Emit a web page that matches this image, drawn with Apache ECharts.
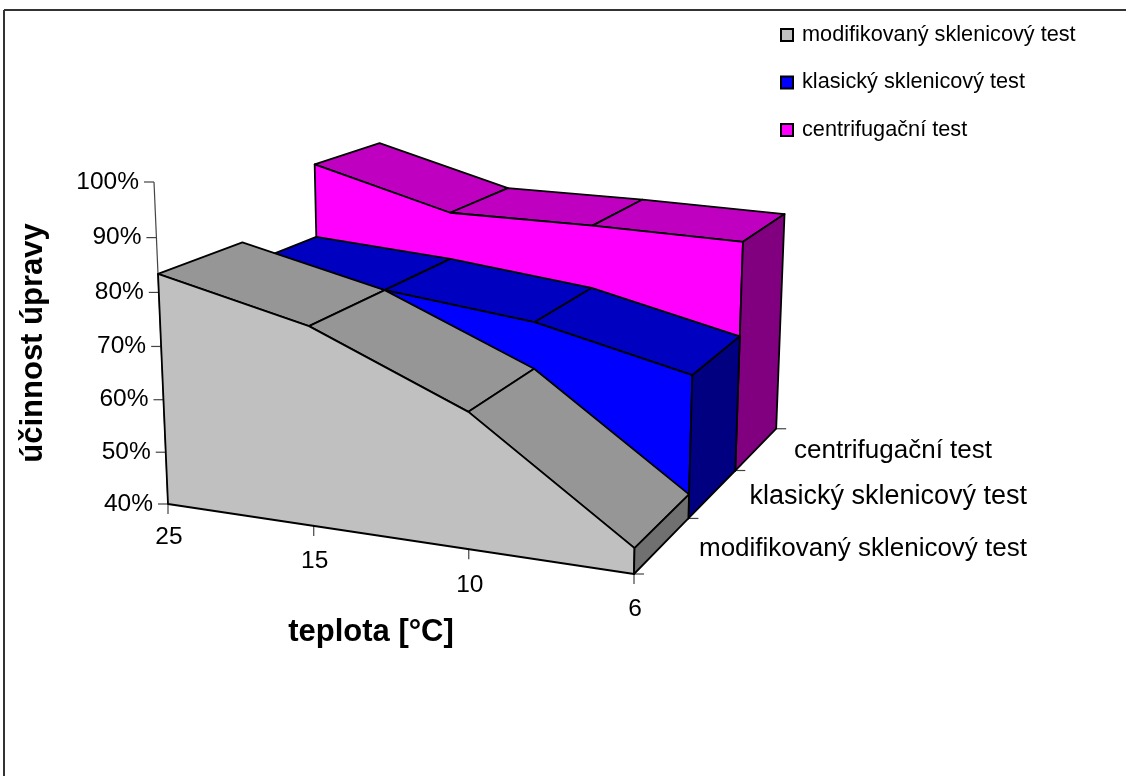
<!DOCTYPE html>
<html><head><meta charset="utf-8">
<style>html,body{margin:0;padding:0;background:#fff}#c{width:1126px;height:776px}</style>
<script src="https://cdn.jsdelivr.net/npm/echarts@6/dist/echarts.min.js"></script>
</head><body><div id="c"></div>
<script>
const temperatures = ['25','15','10','6'];
const valueTicks = [40,50,60,70,80,90,100];
const testNames = ['modifikovaný sklenicový test','klasický sklenicový test','centrifugační test'];
const modified = [83.4,76.8,64.8,44.6];
const classic = [78.8,76.8,73.6,66.9];
const centrifuge = [93.9,86.2,86.0,85.3];
const font = '"Liberation Sans", Arial, sans-serif';

// Perspective camera: grid-normalised (X, Y, Z) -> screen
const L=168,T=182,W=466,H=322;
const O=[168,504],PX=[634,574],PY=[154,182];
const a=-0.09,b=-0.042,c=0.2175,VZ=[1371,-179];
const EX=[PX[0]*(1+a)-O[0],PX[1]*(1+a)-O[1]];
const EY=[PY[0]*(1+b)-O[0],PY[1]*(1+b)-O[1]];
const EZ=[c*VZ[0],c*VZ[1]];
function proj(X,Y,Z){
  const w=1+a*X+b*Y+c*Z;
  return [(O[0]+X*EX[0]+Y*EY[0]+Z*EZ[0])/w,(O[1]+X*EX[1]+Y*EY[1]+Z*EZ[1])/w];
}
function pt(api,i,v,Z){
  const p=api.coord([i,v]);
  return proj((p[0]-L)/W,(T+H-p[1])/H,Z);
}
const edge={stroke:'#000',lineWidth:1.8,lineJoin:'round'};
function poly(points,fill){return {type:'polygon',shape:{points},style:Object.assign({fill},edge)};}

function solidSeries(k,values,colors){
  const z0=k/3,z1=(k+1)/3;
  return {
    type:'custom',name:testNames[k],z:3-k,silent:true,animation:false,
    coordinateSystem:'cartesian2d',
    itemStyle:{color:colors[0],borderColor:'#000',borderWidth:1.8},
    encode:{x:0,y:1},
    data:values.map((v,i)=>[i,v]),
    renderItem(params,api){
      if(params.dataIndex!==0) return null;
      const n=values.length,ch=[];
      const front=values.map((v,i)=>pt(api,i,v,z0));
      const back=values.map((v,i)=>pt(api,i,v,z1));
      for(let i=0;i<n-1;i++) ch.push(poly([front[i],front[i+1],back[i+1],back[i]],colors[1]));
      ch.push(poly([...front,pt(api,n-1,40,z0),pt(api,0,40,z0)],colors[0]));
      ch.push(poly([front[n-1],back[n-1],pt(api,n-1,40,z1),pt(api,n-1,40,z0)],colors[2]));
      return {type:'group',children:ch};
    }
  };
}
const tick='#444';
function tickLine(p,q){return {type:'line',shape:{x1:p[0],y1:p[1],x2:q[0],y2:q[1]},style:{stroke:tick,lineWidth:1.2}};}
function label(text,x,y,align,size){return {type:'text',style:{text,x,y,align,verticalAlign:'middle',fill:'#000',font:(size||24.5)+'px '+font}};}

const depthLabelRight=[1027,1027,992];
const depthLabelShift=[4,3,2];
const depthLabelSize=[26,27,26];
const xLabelDrop=[33,35,36,35];
const axesSeries={
  type:'custom',name:'axes',z:0,silent:true,animation:false,coordinateSystem:'cartesian2d',
  encode:{x:0,y:1},data:[[0,40]],
  renderItem(params,api){
    const ch=[];
    ch.push(tickLine(pt(api,0,40,0),pt(api,0,100,0)));
    valueTicks.forEach(v=>{
      const p=pt(api,0,v,0);
      ch.push(tickLine([p[0]-10,p[1]],p));
      ch.push(label(v+'%',p[0]-15,p[1],'right'));
    });
    temperatures.forEach((t,i)=>{
      const p=pt(api,i,40,0);
      ch.push(tickLine(p,[p[0],p[1]+10]));
      ch.push(label(t,p[0]+1,p[1]+xLabelDrop[i],'center'));
    });
    for(let k=0;k<=3;k++){
      const p=pt(api,3,40,k/3);
      ch.push(tickLine(p,[p[0]+10,p[1]]));
      if(k<3) {
        const q=pt(api,3,40,(k+0.5)/3);
        ch.push(label(testNames[k],depthLabelRight[k],q[1]+depthLabelShift[k],'right',depthLabelSize[k]));
      }
    }
    return {type:'group',children:ch};
  }
};

const chart=echarts.init(document.getElementById('c'),null,{renderer:'canvas'});
chart.setOption({
  animation:false,backgroundColor:'#fff',
  grid:{left:L,top:T,width:W,height:H,show:false},
  xAxis:{type:'category',data:temperatures,boundaryGap:false,show:false},
  yAxis:{type:'value',min:40,max:100,show:false},
  legend:{show:true,orient:'vertical',left:775,top:19,itemWidth:12,itemHeight:12,itemGap:25.5,
    data:testNames,selectedMode:false,icon:'rect',
    textStyle:{fontFamily:font,fontSize:21.7,lineHeight:22,color:'#000',padding:[0,0,0,4]},
    itemStyle:{borderColor:'#000',borderWidth:2}},
  graphic:[
    {type:'line',shape:{x1:4,y1:10,x2:1126,y2:10},style:{stroke:'#333',lineWidth:2},silent:true},
    {type:'line',shape:{x1:4,y1:10,x2:4,y2:776},style:{stroke:'#333',lineWidth:2},silent:true},
    {type:'text',x:33,y:343,rotation:Math.PI/2,style:{text:'účinnost úpravy',font:'bold 31px '+font,align:'center',verticalAlign:'middle',fill:'#000'},silent:true},
    {type:'text',x:371,y:632,style:{text:'teplota [°C]',font:'bold 31px '+font,align:'center',verticalAlign:'middle',fill:'#000'},silent:true}
  ],
  series:[
    axesSeries,
    solidSeries(2,centrifuge,['#FF00FF','#C000C0','#800080']),
    solidSeries(1,classic,['#0000FF','#0000C0','#000080']),
    solidSeries(0,modified,['#C0C0C0','#969696','#707070'])
  ]
});
</script></body></html>
